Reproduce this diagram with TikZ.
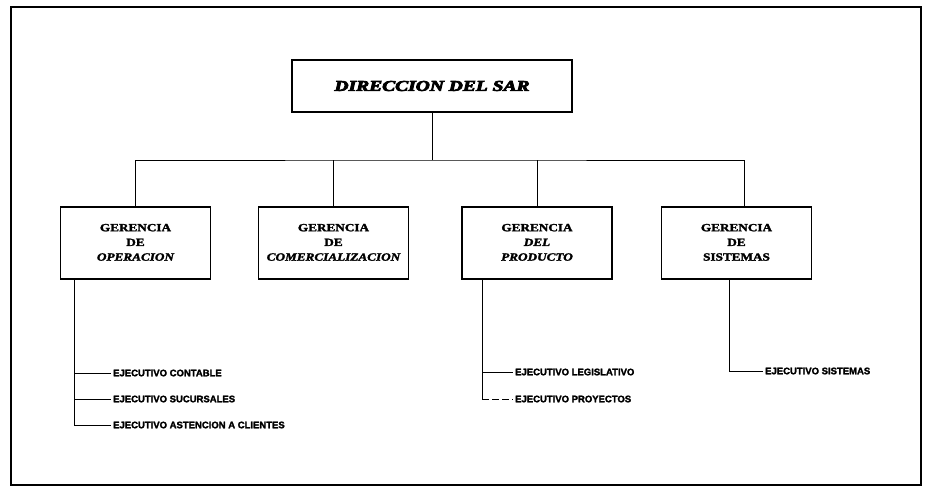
\documentclass[tikz,border=0pt]{standalone}
\usepackage{fontspec}
\usepackage{graphicx}
\setmainfont{Liberation Serif}[
  UprightFont={* Bold}, BoldFont={* Bold}, ItalicFont={* Bold Italic},
  BoldItalicFont={* Bold Italic}]
\newfontfamily\heavyserif{Liberation Serif}[
  UprightFont={* Bold Italic}, FakeBold=4.5]
\newfontfamily\execfont{Liberation Sans}[
  UprightFont={* Bold}, FakeBold=2.2]
\newfontfamily\unitfont{Liberation Serif}[
  UprightFont={* Bold}, ItalicFont={* Bold Italic}, FakeBold=2]
\tikzset{
  x=1pt, y=-1pt,
  frame/.style={draw=black, line width=2pt},
  unitbox/.style={draw=black, line width=1.2pt, minimum width=150pt,
    minimum height=72pt, inner sep=0pt, align=center},
  headbox/.style={draw=black, line width=1.3pt, minimum width=280pt,
    minimum height=52pt, inner sep=0pt},
  exec/.style={anchor=west, inner sep=2pt,
    font=\execfont\fontsize{9.5}{11}\selectfont},
  link/.style={draw=black, line width=1pt},
}
% three-line unit label, widened like the typewriter face
\newcommand{\unitlabel}[3]{\scalebox{1.2}[1]{\unitfont\fontsize{11}{14.7}\selectfont
  \begin{tabular}{@{}c@{}}#1\\#2\\#3\end{tabular}}}
\begin{document}
\begin{tikzpicture}
\useasboundingbox (0,0) rectangle (926,487);
\draw[frame] (11,7) rectangle (921,485);

% head office
\node[headbox] (dir) at (432,86)
  {\scalebox{1.3}[1]{\heavyserif\fontsize{15}{18}\selectfont DIRECCION DEL SAR}};

% management units
\node[unitbox] (op)   at (135.5,243) {\unitlabel{GERENCIA}{DE}{\itshape OPERACION}};
\node[unitbox] (com)  at (333.5,243) {\unitlabel{GERENCIA}{DE}{\itshape COMERCIALIZACION}};
\node[unitbox] (prod) at (537,243)   {\unitlabel{GERENCIA}{\itshape DEL}{\itshape PRODUCTO}};
\node[unitbox] (sis)  at (736.5,243) {\unitlabel{GERENCIA}{DE}{SISTEMAS}};

% distribution bus
\coordinate (bus) at (432,160);
\coordinate (sistop) at ([xshift=7.5pt]sis.north);
\draw[link] (dir.south) -- (bus);
\draw[link] (op.north) |- (bus) -| (sistop);
\draw[link] (com.north) -- (com.north |- bus);
\draw[link] (prod.north) -- (prod.north |- bus);

% executives
\node[exec] (c1) at (111,373) {EJECUTIVO CONTABLE};
\node[exec] (c2) at (111,399) {EJECUTIVO SUCURSALES};
\node[exec] (c3) at (111,425) {EJECUTIVO ASTENCION A CLIENTES};
\node[exec] (p1) at (513,372) {EJECUTIVO LEGISLATIVO};
\node[exec] (p2) at (513,399) {EJECUTIVO PROYECTOS};
\node[exec] (s1) at (763,371) {EJECUTIVO SISTEMAS};

% branch lines under the units
\coordinate (opb) at ([xshift=15pt]op.south west);
\coordinate (prb) at ([xshift=21pt]prod.south west);
\coordinate (sib) at ([xshift=-7.5pt]sis.south);

\draw[link] (opb) |- (c3.west);
\draw[link] (opb |- c1.west) -- (c1.west);
\draw[link] (opb |- c2.west) -- (c2.west);

\draw[link] (prb) -- (prb |- p2.west);
\draw[link] (prb |- p1.west) -- (p1.west);
\draw[link, dash pattern=on 7pt off 3pt] (prb |- p2.west) -- (p2.west);

\draw[link] (sib) |- (s1.west);
\end{tikzpicture}
\end{document}
